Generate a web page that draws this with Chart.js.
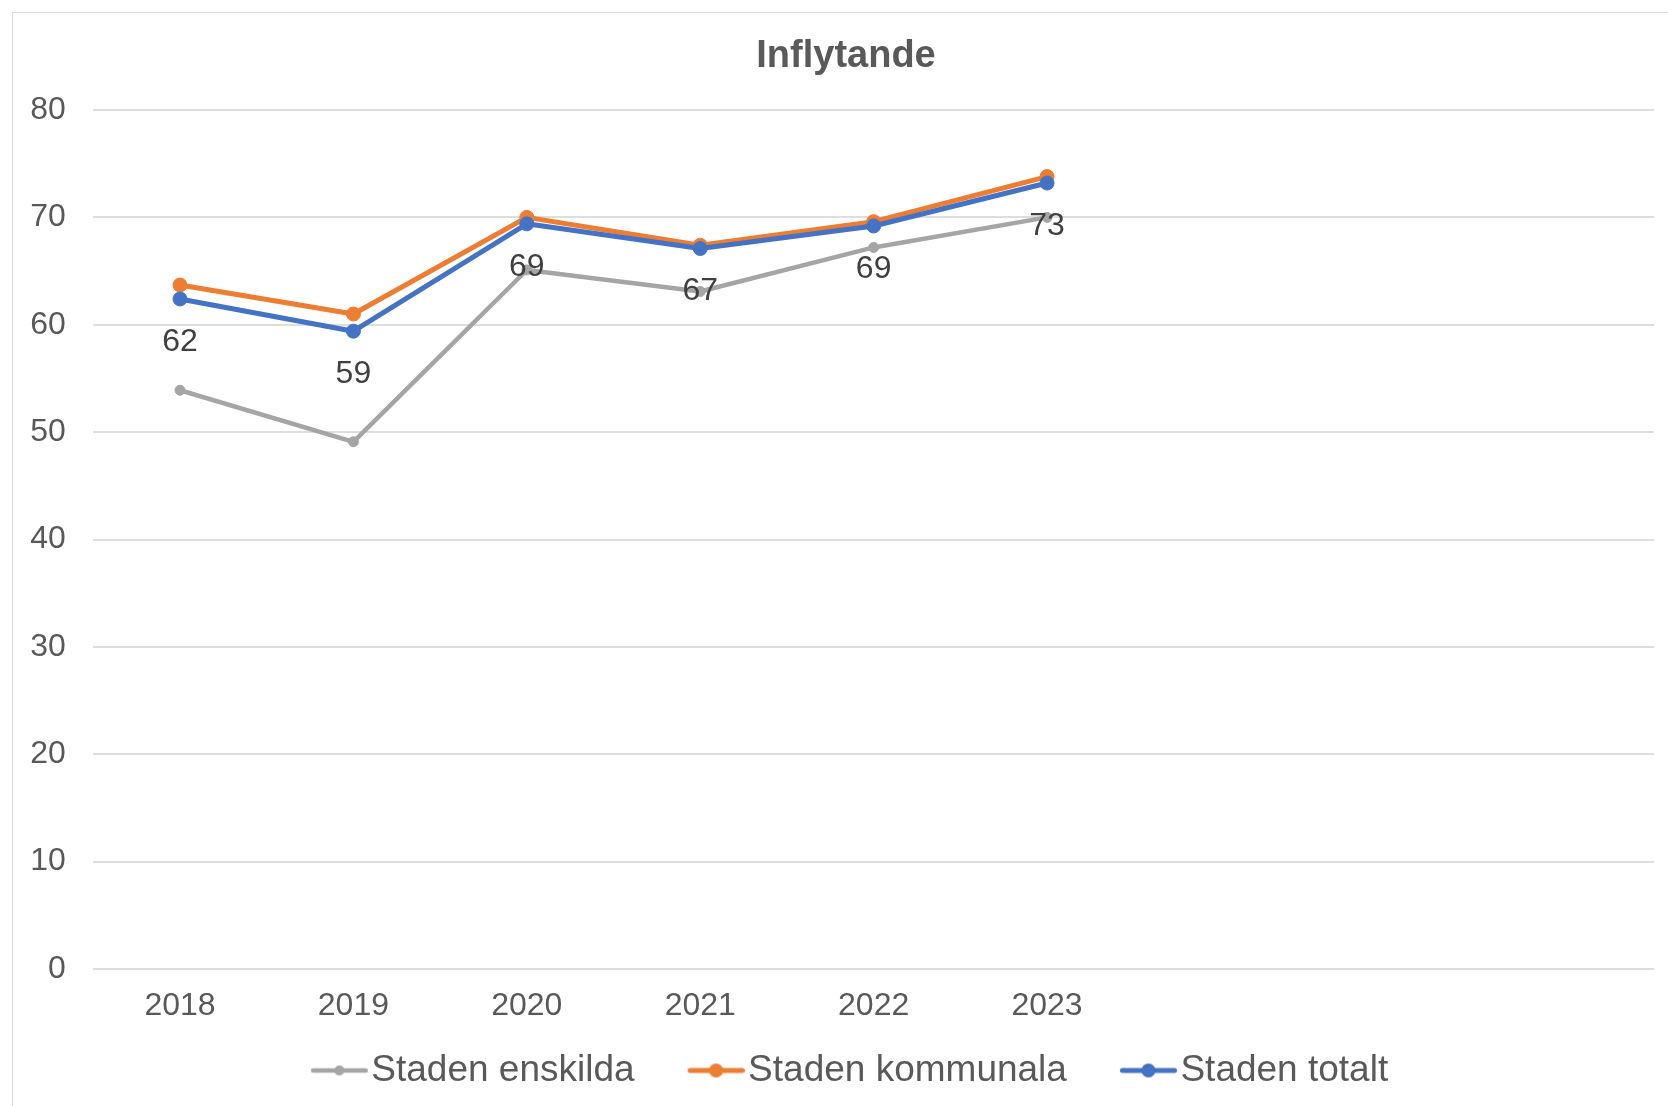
<!DOCTYPE html>
<html>
<head>
<meta charset="utf-8">
<title>Inflytande</title>
<script src="https://cdn.jsdelivr.net/npm/chart.js@4.4.1/dist/chart.umd.min.js"></script>
<style>
  html, body { margin: 0; padding: 0; background: #fff; overflow: hidden; }
  #frame { position: absolute; left: 12px; top: 12px; width: 1700px; height: 1200px; border: 1px solid #d9d9d9; }
  #myChart { position: absolute; left: 0; top: 0; }
</style>
</head>
<body>
<div id="frame"></div>
<canvas id="myChart" width="1668" height="1106"></canvas>
<script>
// data
const labels = ['2018', '2019', '2020', '2021', '2022', '2023', '', '', ''];
const seriesNames = ['Staden enskilda', 'Staden kommunala', 'Staden totalt'];
const enskilda = [53.9, 49.1, 65.1, 63.1, 67.2, 70.0];
const kommunala = [63.7, 61.0, 70.0, 67.4, 69.6, 73.8];
const totalt = [62.4, 59.4, 69.4, 67.1, 69.2, 73.2];
const yMax = 80;
const yStep = 10;

const FONT = '"Liberation Sans", Arial, sans-serif';
const TEXT = '#595959';
const GRAY = '#A5A5A5';
const ORANGE = '#ED7D31';
const BLUE = '#4472C4';

// legend symbol: short line with a dot, drawn on the right part of a wider image
function legendMarker(color, lineWidth, radius) {
  const c = document.createElement('canvas');
  c.width = 99;
  c.height = 20;
  const g = c.getContext('2d');
  g.strokeStyle = color;
  g.fillStyle = color;
  g.lineWidth = lineWidth;
  g.lineCap = 'round';
  g.beginPath();
  g.moveTo(42 + lineWidth / 2, 10);
  g.lineTo(99 - lineWidth / 2, 10);
  g.stroke();
  g.beginPath();
  g.arc(70.5, 10, radius, 0, Math.PI * 2);
  g.fill();
  return c;
}
const markers = [legendMarker(GRAY, 4.5, 5), legendMarker(ORANGE, 5, 7), legendMarker(BLUE, 5, 7)];

// value labels under the "Staden totalt" points
const valueLabels = {
  id: 'valueLabels',
  afterDatasetsDraw(chart) {
    const meta = chart.getDatasetMeta(2);
    const ctx = chart.ctx;
    ctx.save();
    ctx.font = '32px ' + FONT;
    ctx.fillStyle = '#404040';
    ctx.textAlign = 'center';
    ctx.textBaseline = 'middle';
    meta.data.forEach((pt, i) => {
      ctx.fillText(Math.round(totalt[i]).toString(), pt.x, pt.y + 43);
    });
    ctx.restore();
  }
};

// the original chart box is a bit wider than the picture, so title and legend sit off-centre
const blockShift = {
  id: 'blockShift',
  afterLayout(chart) {
    chart.titleBlock.left += 5;
    chart.titleBlock.right += 5;
    chart.legend.left -= 5;
    chart.legend.right -= 5;
  }
};

function lineSet(label, data, color, width, radius, order) {
  return {
    label,
    data,
    borderColor: color,
    backgroundColor: color,
    borderWidth: width,
    borderJoinStyle: 'round',
    borderCapStyle: 'round',
    pointRadius: radius,
    pointBackgroundColor: color,
    pointBorderColor: color,
    pointBorderWidth: 1,
    tension: 0,
    order
  };
}

const ctx = document.getElementById('myChart').getContext('2d');
const myChart = new Chart(ctx, {
  type: 'line',
  data: {
    labels,
    datasets: [
      lineSet(seriesNames[0], enskilda, GRAY, 4.5, 5, 2),
      lineSet(seriesNames[1], kommunala, ORANGE, 5, 7, 1),
      lineSet(seriesNames[2], totalt, BLUE, 5, 7, 0)
    ]
  },
  options: {
    responsive: false,
    animation: false,
    layout: {
      padding: { left: 28, right: 14, top: 0, bottom: 7 }
    },
    plugins: {
      title: {
        display: true,
        text: 'Inflytande',
        color: TEXT,
        font: { family: FONT, size: 38, weight: 'bold' },
        padding: { top: 33.7, bottom: 30.7 }
      },
      legend: {
        position: 'bottom',
        labels: {
          color: TEXT,
          font: { family: FONT, size: 37 },
          usePointStyle: true,
          pointStyleWidth: 69,
          padding: 26,
          sort: (a, b) => a.datasetIndex - b.datasetIndex,
          generateLabels(chart) {
            const items = Chart.defaults.plugins.legend.labels.generateLabels(chart);
            items.forEach((it) => { it.pointStyle = markers[it.datasetIndex]; });
            return items;
          }
        }
      },
      tooltip: { enabled: false }
    },
    scales: {
      x: {
        offset: true,
        grid: { display: false, drawTicks: false },
        border: { display: false },
        ticks: {
          color: TEXT,
          font: { family: FONT, size: 32 },
          padding: 18,
          maxRotation: 0,
          autoSkip: false
        },
        afterFit(scale) { scale.height = 57; }
      },
      y: {
        min: 0,
        max: yMax,
        grid: { color: '#dedede', lineWidth: 2, drawTicks: false },
        border: { display: false },
        ticks: {
          stepSize: yStep,
          color: TEXT,
          font: { family: FONT, size: 32 },
          padding: 27.5
        },
        afterFit(scale) { scale.width = 65.3; }
      }
    }
  },
  plugins: [valueLabels, blockShift]
});
</script>
</body>
</html>
